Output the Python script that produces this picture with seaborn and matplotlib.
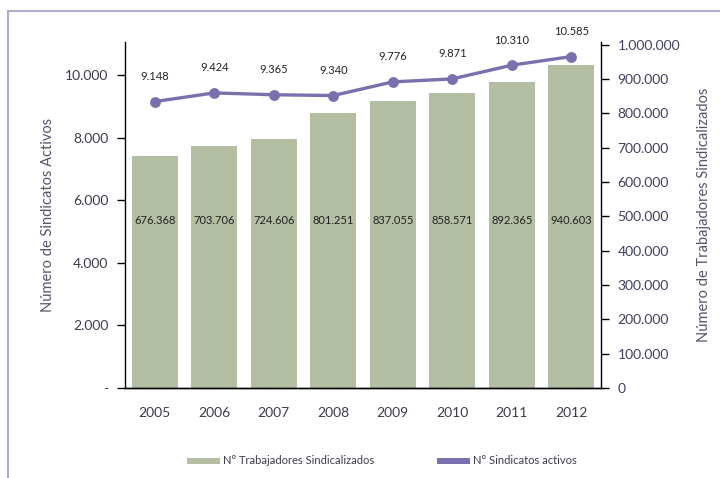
import matplotlib
matplotlib.use("Agg")
import matplotlib.pyplot as plt
import matplotlib.transforms as mtransforms
from matplotlib.patches import Patch
from matplotlib.lines import Line2D
import seaborn as sns
import pandas as pd

years = ["2005", "2006", "2007", "2008", "2009", "2010", "2011", "2012"]
trabajadores = [676368, 703706, 724606, 801251, 837055, 858571, 892365, 940603]
sindicatos = [9148, 9424, 9365, 9340, 9776, 9871, 10310, 10585]
left_ticks = [0, 2000, 4000, 6000, 8000, 10000]
left_ticklabels = ["-", "2.000", "4.000", "6.000", "8.000", "10.000"]
right_ticks = [0, 100000, 200000, 300000, 400000, 500000, 600000, 700000, 800000, 900000, 1000000]

df = pd.DataFrame({"year": years, "trab": trabajadores, "sind": sindicatos})

sns.set_style("white")
plt.rcParams["font.family"] = ["Lato", "DejaVu Sans"]

BAR = "#b3be a2".replace(" ", "")
LINE = "#7b70ae"
TXT = "#3c3c4a"

fig = plt.figure(figsize=(7.2, 4.78), dpi=100)
ax1 = fig.add_axes([125/720, 1-388/478, 476/720, 346/478])
ax2 = ax1.twinx()
ax1.set_zorder(ax2.get_zorder() + 1)
ax1.patch.set_visible(False)

sns.barplot(data=df, x="year", y="trab", ax=ax2, color=BAR, width=0.77,
            saturation=1, edgecolor="none")
sns.pointplot(data=df, x="year", y="sind", ax=ax1, color=LINE, markers="o",
              linestyles="-", linewidth=2.4, markersize=6)

ax1.set_xlim(-0.5, 7.5)
ax1.set_ylim(0, 11050)
ax2.set_ylim(0, 1008000)

ax1.set_yticks(left_ticks)
ax1.set_yticklabels(left_ticklabels)
ax2.set_yticks(right_ticks)
ax2.set_yticklabels([f"{v:,}".replace(",", ".") for v in right_ticks])

ax1.set_xticks(range(len(years)))
ax1.set_xticklabels(years)
ax1.set_xticks([i - 0.5 for i in range(len(years) + 1)], minor=True)
ax1.tick_params(axis="x", which="major", length=0, pad=14, labelsize=10, labelcolor=TXT)
ax1.tick_params(axis="x", which="minor", length=7, direction="inout", width=1, color="black")
ax1.tick_params(axis="y", length=6, width=1, direction="out", color="black",
                labelsize=10, labelcolor=TXT, pad=6, left=True)
ax2.tick_params(axis="y", length=6, width=1, direction="out", color="black",
                labelsize=10, labelcolor="#3f3f60", pad=6, right=True)

for ax in (ax1, ax2):
    ax.spines["top"].set_visible(False)
    for s in ("left", "right", "bottom"):
        ax.spines[s].set_color("black")
        ax.spines[s].set_linewidth(1)
ax1.spines["right"].set_visible(False)
ax2.spines["left"].set_visible(False)

ax1.set_xlabel("")
ax1.set_ylabel("Número de Sindicatos Activos", fontsize=10.5, color="#55556a", labelpad=7)
ax2.set_ylabel("Número de Trabajadores Sindicalizados", fontsize=10.5, color="#55556a", labelpad=12)

trans = mtransforms.blended_transform_factory(ax2.transData, ax2.transAxes)
for i, v in enumerate(trabajadores):
    ax2.text(i, 0.485, f"{v:,}".replace(",", "."), transform=trans, ha="center",
             va="center", fontsize=8, color="#222222")

for i, v in enumerate(sindicatos):
    ax1.annotate(f"{v:,}".replace(",", "."), (i, v), xytext=(0, 14), textcoords="offset points",
                 ha="center", va="bottom", fontsize=8, color="#222222")

handles = [Patch(facecolor=BAR, edgecolor="none"), Patch(facecolor=LINE, edgecolor="none")]
fig.legend(handles, ["N° Trabajadores Sindicalizados", "N° Sindicatos activos"],
           loc="center", bbox_to_anchor=(382/720, 1-461/478), ncol=2, frameon=False,
           fontsize=8, handlelength=3.0, handleheight=0.45, handletextpad=0.3,
           columnspacing=5.6, labelcolor=TXT)

fig.add_artist(Line2D([8/720, 8/720], [0, 1-11/478], color="#aeacd0", lw=1.5))
fig.add_artist(Line2D([8/720, 1], [1-11/478, 1-11/478], color="#aeacd0", lw=1.5))

fig.savefig("out.png", dpi=100, facecolor="white")
